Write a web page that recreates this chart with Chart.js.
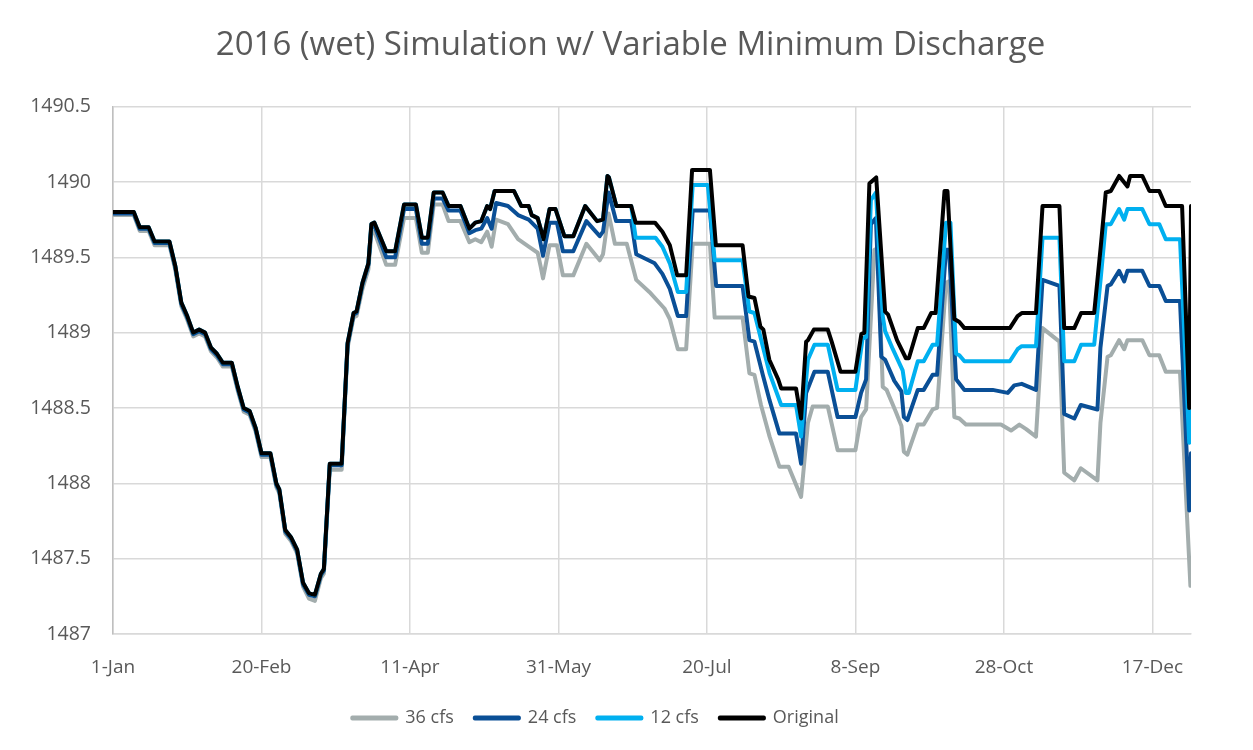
<!DOCTYPE html>
<html>
<head>
<meta charset="utf-8">
<title>2016 (wet) Simulation w/ Variable Minimum Discharge</title>
<script src="https://cdn.jsdelivr.net/npm/chart.js@4.4.1/dist/chart.umd.min.js"></script>
<style>
  html, body { margin: 0; padding: 0; background: #ffffff; }
  #wrap { width: 1253px; height: 750px; position: relative; }
</style>
</head>
<body>
<div id="wrap"><canvas id="chart"></canvas></div>
<script>
'use strict';

// x = day of year (0 = 1-Jan), y = water level
const xTickDays   = [0, 50, 100, 150, 200, 250, 300, 350];
const xTickLabels = ['1-Jan', '20-Feb', '11-Apr', '31-May', '20-Jul', '8-Sep', '28-Oct', '17-Dec'];

const seriesNames = ['36 cfs', '24 cfs', '12 cfs', 'Original'];

// ── Original ──
const origDays = [
  0, 7, 9, 12, 14, 19, 21, 23, 25, 27, 29, 31, 33, 35, 37, 40, 42, 44, 46, 48, 50, 53, 55, 56, 58, 60, 62, 64, 66, 68,
  70, 71, 73, 77, 79, 81, 82, 84, 86, 87, 88, 92, 95, 98, 102, 104, 106, 108, 111, 113, 117, 120, 122, 124, 126, 127,
  128.5, 135, 137.5, 140, 141, 143, 145, 147, 149, 152, 155, 159, 163, 165, 166.5, 167, 169.5, 174.5, 176, 182.5,
  185, 187.5, 190, 193, 195, 201, 203, 212, 214, 216, 218, 219, 221, 224, 225, 230, 231.7, 233.4, 234, 236, 240.7,
  242, 245, 250, 252, 253, 254.7, 257, 260, 261, 264, 267, 268, 271, 273, 275.5, 277, 280, 281, 283.3, 285, 286.7,
  302, 304.6, 306, 310.8, 313, 318.7, 320.3, 323.7, 326, 330.4, 332.6, 334.3, 336, 338.8, 340, 341.6, 342.5, 346.6,
  349, 352.3, 354.5, 360, 362.4, 363
];
const origLevel = [
  1489.80, 1489.80, 1489.70, 1489.70, 1489.605, 1489.605, 1489.44, 1489.20, 1489.11, 1489.00, 1489.02, 1489.00, 1488.90, 1488.86, 1488.80, 1488.80, 1488.64, 1488.50, 1488.48, 1488.37, 1488.20, 1488.20, 1488.00, 1487.96, 1487.69, 1487.64, 1487.56, 1487.34, 1487.27, 1487.26,
  1487.40, 1487.43, 1488.13, 1488.13, 1488.93, 1489.13, 1489.14, 1489.33, 1489.46, 1489.72, 1489.73, 1489.54, 1489.54, 1489.85, 1489.85, 1489.63, 1489.63, 1489.93, 1489.93, 1489.84, 1489.84, 1489.69, 1489.73, 1489.74, 1489.84, 1489.82,
  1489.94, 1489.94, 1489.84, 1489.84, 1489.78, 1489.76, 1489.62, 1489.82, 1489.82, 1489.64, 1489.64, 1489.84, 1489.74, 1489.75, 1490.04, 1490.03, 1489.84, 1489.84, 1489.73, 1489.73,
  1489.67, 1489.58, 1489.38, 1489.38, 1490.08, 1490.08, 1489.58, 1489.58, 1489.24, 1489.23, 1489.04, 1489.02, 1488.82, 1488.69, 1488.63, 1488.63, 1488.43, 1488.94, 1488.95, 1489.02, 1489.02,
  1488.94, 1488.74, 1488.74, 1488.99, 1489.00, 1489.99, 1490.03, 1489.14, 1489.12, 1488.95, 1488.83, 1488.83, 1489.03, 1489.03, 1489.13, 1489.13, 1489.94, 1489.94, 1489.09, 1489.07, 1489.03,
  1489.03, 1489.11, 1489.13, 1489.13, 1489.84, 1489.84, 1489.03, 1489.03, 1489.13, 1489.13, 1489.57, 1489.93, 1489.94, 1490.04, 1490.01, 1489.97, 1490.04, 1490.04,
  1489.94, 1489.94, 1489.84, 1489.84, 1488.50, 1489.84
];

// ── 12 cfs (same as Original until early July) ──
const cfs12Days = [
  0, 7, 9, 12, 14, 19, 21, 23, 25, 27, 29, 31, 33, 35, 37, 40, 42, 44, 46, 48, 50, 53, 55, 56, 58, 60, 62, 64, 66, 68,
  70, 71, 73, 77, 79, 81, 82, 84, 86, 87, 88, 92, 95, 98, 102, 104, 106, 108, 111, 113, 117, 120, 122, 124, 126, 127,
  128.5, 135, 137.5, 140, 141, 143, 145, 147, 149, 152, 155, 159, 163, 165, 166.5, 167, 169.5, 174.5, 176, 182.7,
  185, 187.5, 190.2, 193, 195.2, 200.3, 202.6, 212, 214.3, 216, 218.8, 221.1, 225, 230, 231.7, 234, 236.2, 240.7,
  244, 250, 252.4, 253.6, 255.2, 256.9, 259.2, 260, 262.6, 265.9, 267, 268, 271, 273, 276, 277.5, 280.5, 282, 283.9,
  285, 286.7, 302, 304.6, 306, 310.8, 313, 318.7, 320.3, 323.7, 326, 330.4, 332.6, 334.3, 336, 338.8, 340.5, 341.6,
  346.6, 349, 352.3, 354.5, 359.3, 362.4, 363
];
const cfs12Level = [
  1489.80, 1489.80, 1489.70, 1489.70, 1489.605, 1489.605, 1489.44, 1489.20, 1489.11, 1489.00, 1489.02, 1489.00, 1488.90, 1488.86, 1488.80, 1488.80, 1488.64, 1488.50, 1488.48, 1488.37, 1488.20, 1488.20, 1488.00, 1487.96, 1487.69, 1487.64, 1487.56, 1487.34, 1487.27, 1487.26,
  1487.40, 1487.43, 1488.13, 1488.13, 1488.93, 1489.13, 1489.14, 1489.33, 1489.46, 1489.72, 1489.73, 1489.54, 1489.54, 1489.85, 1489.85, 1489.63, 1489.63, 1489.93, 1489.93, 1489.84, 1489.84, 1489.69, 1489.73, 1489.74, 1489.84, 1489.82,
  1489.94, 1489.94, 1489.84, 1489.84, 1489.78, 1489.76, 1489.62, 1489.82, 1489.82, 1489.64, 1489.64, 1489.84, 1489.74, 1489.75, 1490.04, 1490.03, 1489.84, 1489.84, 1489.63, 1489.63,
  1489.57, 1489.46, 1489.27, 1489.27, 1489.98, 1489.98, 1489.48, 1489.48, 1489.14, 1489.13, 1488.91, 1488.73, 1488.52, 1488.52, 1488.31, 1488.82, 1488.92, 1488.92,
  1488.62, 1488.62, 1488.96, 1488.97, 1489.88, 1489.93, 1489.11, 1489.01, 1488.89, 1488.75, 1488.60, 1488.60, 1488.81, 1488.81, 1488.92, 1488.92, 1489.73, 1489.73, 1488.86,
  1488.85, 1488.81, 1488.81, 1488.89, 1488.91, 1488.91, 1489.63, 1489.63, 1488.81, 1488.81, 1488.92, 1488.92, 1489.36, 1489.72, 1489.72, 1489.82, 1489.75, 1489.82,
  1489.82, 1489.72, 1489.72, 1489.62, 1489.62, 1488.27, 1488.49
];

// ── 24 cfs ──
const cfs24Days = [
  0, 7, 9, 12, 14, 19, 21, 23, 25, 27, 29, 31, 33, 35, 37, 40, 42, 44, 46, 48, 50, 53, 55, 56, 58, 60, 62, 64, 66, 68,
  70, 71, 73, 77, 79, 81, 82, 84, 86, 87, 88, 92, 95, 98, 102, 104, 106, 108, 111, 113, 117, 120, 122, 124, 126, 127.5,
  129, 133, 136.4, 140, 143, 144.8, 147, 149.5, 151.5, 155, 159.4, 163.9, 165, 166.9, 169.4, 174.5, 176.2, 182.4,
  185, 187.5, 190.2, 193, 195.2, 201, 203.1, 212, 214.3, 216, 218.8, 221.1, 224.4, 230, 231.7, 233.4, 236.2, 240.7,
  244, 250, 251.9, 253.6, 255.2, 256.9, 258.7, 260, 263.1, 265.5, 266.3, 267.5, 271, 273, 276, 277.5, 280.5, 281.5,
  283.9, 286.7, 296.2, 301.3, 303.5, 306, 310.8, 313, 318.7, 320.3, 323.7, 325.9, 331.5, 332.5, 334.9, 336, 338.8,
  340.5, 341.6, 346.6, 349, 352.3, 354.5, 359.3, 362.4, 363
];
const cfs24Level = [
  1489.79, 1489.79, 1489.69, 1489.69, 1489.595, 1489.595, 1489.43, 1489.19, 1489.10, 1488.99, 1489.01, 1488.99, 1488.89, 1488.85, 1488.79, 1488.79, 1488.63, 1488.49, 1488.47, 1488.36, 1488.19, 1488.19, 1487.99, 1487.95, 1487.68, 1487.63, 1487.55, 1487.33, 1487.26, 1487.25,
  1487.39, 1487.42, 1488.12, 1488.12, 1488.92, 1489.12, 1489.13, 1489.32, 1489.45, 1489.70, 1489.71, 1489.50, 1489.50, 1489.82, 1489.82, 1489.59, 1489.59, 1489.89, 1489.89, 1489.81, 1489.81, 1489.66, 1489.68, 1489.69, 1489.76, 1489.69,
  1489.86, 1489.84, 1489.78, 1489.75, 1489.69, 1489.51, 1489.73, 1489.73, 1489.54, 1489.54, 1489.74, 1489.64, 1489.67, 1489.93, 1489.74, 1489.74, 1489.52, 1489.46,
  1489.39, 1489.29, 1489.11, 1489.11, 1489.81, 1489.81, 1489.31, 1489.31, 1488.95, 1488.94, 1488.72, 1488.55, 1488.33, 1488.33, 1488.13, 1488.60, 1488.74, 1488.74,
  1488.44, 1488.44, 1488.60, 1488.69, 1489.72, 1489.76, 1488.84, 1488.82, 1488.68, 1488.61, 1488.44, 1488.42, 1488.62, 1488.62, 1488.72, 1488.72, 1489.55, 1489.55,
  1488.69, 1488.62, 1488.62, 1488.60, 1488.65, 1488.66, 1488.62, 1489.35, 1489.31, 1488.46, 1488.43, 1488.52, 1488.49, 1488.90, 1489.31, 1489.32, 1489.41,
  1489.34, 1489.41, 1489.41, 1489.31, 1489.31, 1489.21, 1489.21, 1487.82, 1488.20
];

// ── 36 cfs ──
const cfs36Days = [
  0, 7, 9, 12, 14, 19, 21, 23, 25, 27, 29, 31, 33, 35, 37, 40, 42, 44, 46, 48, 50, 53, 55, 56, 58, 60, 62, 64, 66, 68,
  70, 71, 73, 77, 79, 81, 82, 84, 86, 87, 88, 92, 95, 98, 102, 104, 106, 108, 111, 113, 117, 120, 122, 124, 126, 127.5,
  129, 133, 136.4, 140, 143, 144, 144.8, 147, 149.5, 151.5, 155, 159.4, 163.9, 165, 166.9, 169, 173, 176.2, 180.6,
  185.7, 187.5, 190.2, 193, 195.2, 201, 202.6, 212, 214.3, 216, 218.2, 221.1, 224.4, 227.5, 231.7, 234, 235.6, 240.7,
  244, 250, 251.9, 253.6, 256.4, 257.5, 259.2, 260.5, 263.7, 265.5, 266.3, 267.5, 271, 273, 276, 277.5, 280.5, 281.5,
  283.3, 285, 287.2, 299, 302.4, 305.2, 307.5, 310.8, 313, 318.7, 320.3, 323.7, 325.9, 331.5, 332.5, 334.9, 336,
  338.8, 340.5, 341.6, 346.6, 349, 352.3, 354.5, 359.3, 362.8
];
const cfs36Level = [
  1489.78, 1489.78, 1489.675, 1489.675, 1489.58, 1489.58, 1489.415, 1489.175, 1489.085, 1488.975, 1488.995, 1488.975, 1488.875, 1488.835, 1488.775, 1488.775, 1488.615, 1488.475, 1488.455, 1488.345, 1488.175, 1488.175, 1487.975, 1487.935, 1487.665, 1487.615, 1487.535, 1487.315, 1487.235, 1487.22,
  1487.37, 1487.40, 1488.09, 1488.09, 1488.90, 1489.10, 1489.11, 1489.29, 1489.42, 1489.66, 1489.67, 1489.45, 1489.45, 1489.76, 1489.76, 1489.53, 1489.53, 1489.85, 1489.85, 1489.74, 1489.74, 1489.60, 1489.62, 1489.60, 1489.67, 1489.57,
  1489.75, 1489.72, 1489.62, 1489.57, 1489.53, 1489.44, 1489.36, 1489.58, 1489.58, 1489.38, 1489.38, 1489.59, 1489.48, 1489.52, 1489.79, 1489.59, 1489.59, 1489.35, 1489.27,
  1489.16, 1489.09, 1488.89, 1488.89, 1489.59, 1489.59, 1489.10, 1489.10, 1488.73, 1488.72, 1488.52, 1488.31, 1488.11, 1488.11, 1487.91, 1488.40, 1488.51, 1488.51,
  1488.22, 1488.22, 1488.44, 1488.49, 1489.55, 1489.56, 1488.64, 1488.62, 1488.47, 1488.38, 1488.21, 1488.19, 1488.39, 1488.39, 1488.49, 1488.50, 1489.33, 1489.34,
  1488.44, 1488.43, 1488.39, 1488.39, 1488.35, 1488.39, 1488.36, 1488.31, 1489.03, 1488.94, 1488.07, 1488.02, 1488.10, 1488.02, 1488.40, 1488.84, 1488.85,
  1488.95, 1488.89, 1488.95, 1488.95, 1488.85, 1488.85, 1488.74, 1488.74, 1487.32
];

const toPoints = (days, levels) => days.map((d, i) => ({ x: d, y: levels[i] }));

const TEXT = '#595959';
const GRID = '#d9d9d9';
const FONT = "'Open Sans', 'DejaVu Sans', sans-serif";

function line(label, color, days, levels) {
  return {
    label,
    data: toPoints(days, levels),
    borderColor: color,
    backgroundColor: color,
    borderWidth: 4,
    pointRadius: 0,
    pointHoverRadius: 0,
    tension: 0,
    borderJoinStyle: 'round',
    borderCapStyle: 'round',
    fill: false,
  };
}

// Original first so it is drawn on top; legend is reversed back to 36 → Original
const datasets = [
  line(seriesNames[3], '#000000', origDays,  origLevel),
  line(seriesNames[2], '#00b0f0', cfs12Days, cfs12Level),
  line(seriesNames[1], '#0a4f96', cfs24Days, cfs24Level),
  line(seriesNames[0], '#a3adad', cfs36Days, cfs36Level),
];

// title sits centred on the whole canvas, not on the padded box
const titleShift = {
  id: 'titleShift',
  afterLayout(chart) {
    const t = chart.titleBlock;
    if (t) { t.left += 35; t.right += 35; }
  },
};

const canvas = document.getElementById('chart');
canvas.width = 1253;
canvas.height = 750;

new Chart(canvas.getContext('2d'), {
  type: 'line',
  data: { datasets },
  plugins: [titleShift],
  options: {
    responsive: false,
    animation: false,
    devicePixelRatio: 1,
    layout: { padding: { left: 0, right: 62, top: 0, bottom: 13 } },
    plugins: {
      title: {
        display: true,
        text: '2016 (wet) Simulation w/ Variable Minimum Discharge',
        color: TEXT,
        font: { family: FONT, size: 33, weight: 'normal', lineHeight: 1.2 },
        padding: { top: 26, bottom: 41 },
      },
      legend: {
        position: 'bottom',
        reverse: true,
        labels: {
          color: TEXT,
          font: { family: FONT, size: 18 },
          boxWidth: 44,
          boxHeight: 1,
          padding: 21,
        },
      },
      tooltip: { enabled: false },
    },
    scales: {
      x: {
        type: 'linear',
        min: 0,
        max: 363,
        afterBuildTicks: s => { s.ticks = xTickDays.map(v => ({ value: v })); },
        afterFit: s => { s.height = 54; },
        ticks: {
          color: TEXT,
          font: { family: FONT, size: 19 },
          padding: 22,
          maxRotation: 0,
          autoSkip: false,
          callback: v => xTickLabels[xTickDays.indexOf(v)] ?? '',
        },
        grid: { color: GRID, lineWidth: 1.5, drawTicks: false },
        border: { color: GRID, width: 1.5 },
      },
      y: {
        min: 1487,
        max: 1490.5,
        afterFit: s => { s.width = 113; },
        ticks: {
          stepSize: 0.5,
          color: TEXT,
          font: { family: FONT, size: 19.5 },
          padding: 22,
          callback: v => String(v),
        },
        grid: { color: GRID, lineWidth: 1.5, drawTicks: false },
        border: { color: '#bfbfbf', width: 1.5 },
      },
    },
  },
});
</script>
</body>
</html>
